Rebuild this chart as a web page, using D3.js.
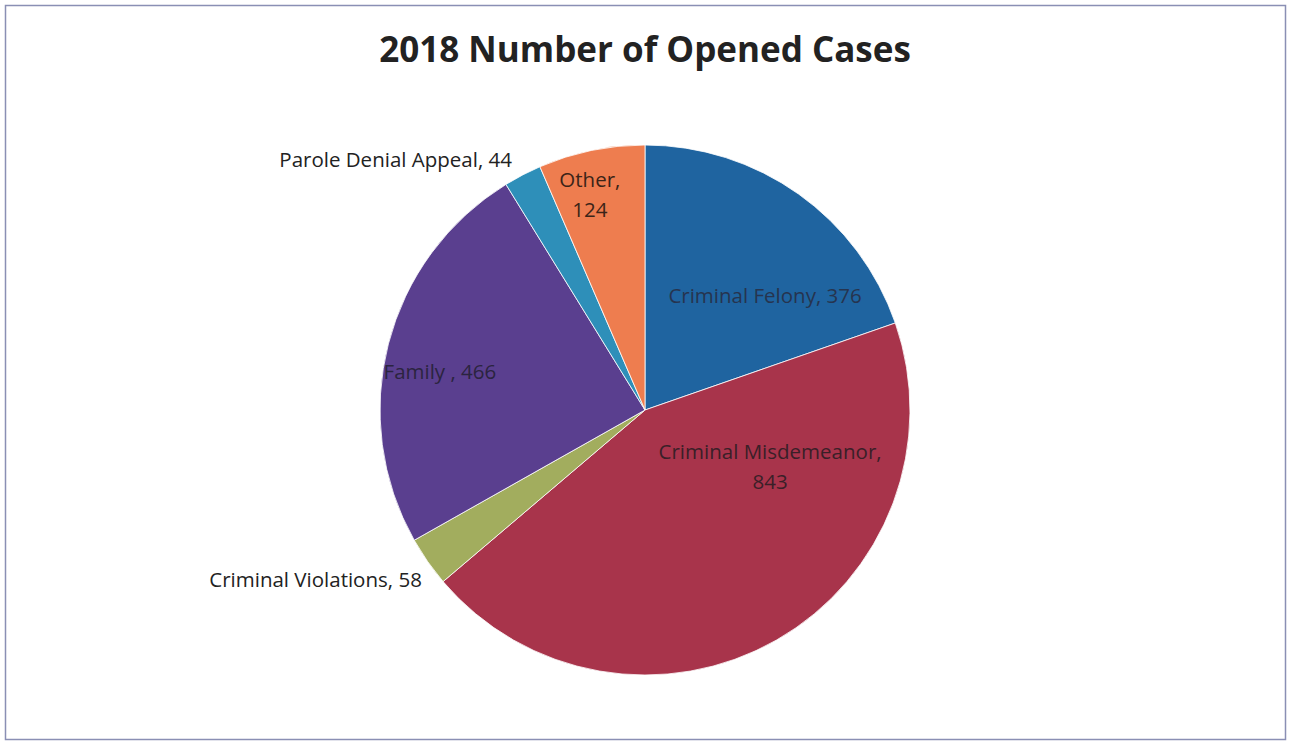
<!DOCTYPE html>
<html>
<head>
<meta charset="utf-8">
<script src="https://cdn.jsdelivr.net/npm/d3@7"></script>
<style>
  html, body { margin: 0; padding: 0; background: #fff; }
  svg { display: block; font-family: "Open Sans", Lato, sans-serif; }
</style>
</head>
<body>
<svg id="chart" width="1289" height="742"></svg>
<script>
// Data
const categories = ['Criminal Felony', 'Criminal Misdemeanor', 'Criminal Violations', 'Family ', 'Parole Denial Appeal', 'Other'];
const values = [376, 843, 58, 466, 44, 124];
const colors = ['#1f64a0', '#a8344b', '#a2ad5e', '#5a3f8f', '#2e8fb9', '#ee7d4f'];
const title = '2018 Number of Opened Cases';

// label anchors, in units of the pie radius from its centre
const labelLayout = [
  { dx: 0.453, dy: -0.43, anchor: 'middle', lines: 1, color: '#26344f' },
  { dx: 0.472, dy: 0.215, anchor: 'middle', lines: 2, color: '#3a1f28' },
  { dx: -0.842, dy: 0.642, anchor: 'end', lines: 1, color: '#222' },
  { dx: -0.774, dy: -0.143, anchor: 'middle', lines: 1, color: '#2b2440' },
  { dx: -0.502, dy: -0.943, anchor: 'end', lines: 1, color: '#222' },
  { dx: -0.208, dy: -0.811, anchor: 'middle', lines: 2, color: '#3b2418' }
];

const width = 1289, height = 742;
const svg = d3.select('#chart');

// chart frame
svg.append('rect')
  .attr('x', 5.5).attr('y', 5.5)
  .attr('width', 1280).attr('height', 734)
  .attr('fill', '#fff')
  .attr('stroke', '#8a8fb4')
  .attr('stroke-width', 1.5);

svg.append('text')
  .attr('x', 645).attr('y', 62)
  .attr('text-anchor', 'middle')
  .attr('font-size', 35)
  .attr('font-weight', 'bold')
  .attr('fill', '#222')
  .text(title);

const cx = 645, cy = 410, r = 265;
const g = svg.append('g').attr('transform', `translate(${cx},${cy})`);

const data = categories.map((c, i) => ({ name: c, value: values[i], i }));
const pie = d3.pie().sort(null).value(d => d.value);
const arc = d3.arc().innerRadius(0).outerRadius(r);
const arcs = pie(data);

g.selectAll('path.slice')
  .data(arcs)
  .join('path')
  .attr('class', 'slice')
  .attr('d', arc)
  .attr('fill', d => colors[d.data.i])
  .attr('stroke', '#fff')
  .attr('stroke-width', 0.8);

// labels
const labels = g.selectAll('text.lbl')
  .data(arcs)
  .join('text')
  .attr('class', 'lbl')
  .attr('font-size', 20.5)
  .attr('text-anchor', d => labelLayout[d.data.i].anchor)
  .attr('fill', d => labelLayout[d.data.i].color)
  .attr('transform', d => `translate(${labelLayout[d.data.i].dx * r},${labelLayout[d.data.i].dy * r})`);

labels.each(function(d) {
  const lay = labelLayout[d.data.i];
  const t = d3.select(this);
  if (lay.lines === 2) {
    t.append('tspan').attr('x', 0).attr('y', -8).text(d.data.name + ',');
    t.append('tspan').attr('x', 0).attr('y', 22).text(d.data.value);
  } else {
    t.append('tspan').attr('x', 0).attr('y', 7).text(d.data.name + ', ' + d.data.value);
  }
});
</script>
</body>
</html>
